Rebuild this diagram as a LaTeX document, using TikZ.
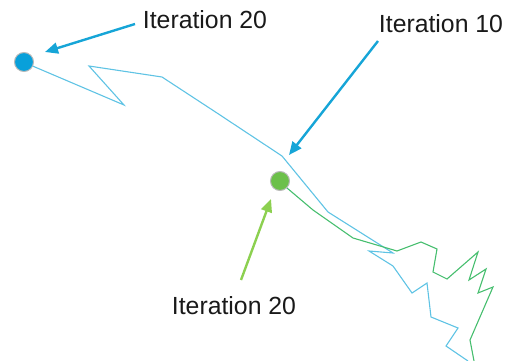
\documentclass[tikz,border=0pt]{standalone}
\usepackage{fontspec}
\setmainfont{Liberation Sans}
\usetikzlibrary{arrows.meta}
\definecolor{pathblue}{RGB}{95,195,228}
\definecolor{pathgreen}{RGB}{70,190,110}
\definecolor{dotblue}{RGB}{8,160,218}
\definecolor{dotgreen}{RGB}{108,192,74}
\definecolor{arrowblue}{RGB}{22,165,215}
\definecolor{arrowgreen}{RGB}{140,208,80}
\tikzset{
  lbl/.style={font=\fontsize{24.8}{28}\selectfont, inner sep=0pt, text=black!90},
  dot/.style={circle, minimum size=19pt, inner sep=0pt, draw=gray!55, line width=1pt},
  trail/.style={line width=1.1pt, line join=miter},
  pointer/.style={line width=2.4pt, -{Triangle[length=13pt,width=11pt]}},
}
\begin{document}
\begin{tikzpicture}[x=1pt,y=-1pt]
\useasboundingbox (0,0) rectangle (514,361);

% end points of the two runs
\node[dot, fill=dotblue] (bdot) at (24,62) {};
\node[dot, fill=dotgreen] (gdot) at (280,181) {};

% blue trajectory
\draw[trail, pathblue] (bdot.-25) -- (124,105) -- (89,66) -- (162,77) -- (217,113)
  -- (282,156) -- (328,212) -- (393,253) -- (369,251) -- (393,266) -- (412,293)
  -- (427,283) -- (431,317) -- (458,328) -- (446,346) -- (468,361);

% green trajectory
\draw[trail, pathgreen] (gdot.-45) -- (313,210) -- (353,238) -- (397,251)
  -- (421,242) -- (437,249) -- (433,272) -- (447,279) -- (478,252) -- (469,280)
  -- (486,269) -- (478,293) -- (493,287) -- (470,340) -- (474,361);

% labels
\node[lbl] (lb20) at (205,20) {Iteration 20};
\node[lbl] (lb10) at (441,24) {Iteration 10};
\node[lbl] (lg20) at (234,306) {Iteration 20};

% pointers
\coordinate (b20s) at (135,24);
\coordinate (b20t) at (45,52);
\coordinate (b10s) at (378,41);
\coordinate (b10t) at (289,155);
\coordinate (g20s) at (241,280);
\coordinate (g20t) at (271,199);
\draw[pointer, arrowblue] (b20s) -- (b20t);
\draw[pointer, arrowblue] (b10s) -- (b10t);
\draw[pointer, arrowgreen] (g20s) -- (g20t);
\end{tikzpicture}
\end{document}
